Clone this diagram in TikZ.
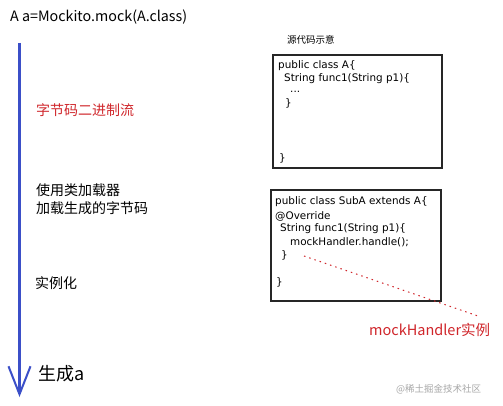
\documentclass[tikz,border=0pt]{standalone}
\usepackage{fontspec}
\setmainfont{Noto Sans CJK SC}
\newfontfamily\codefont{DejaVu Sans}
\usetikzlibrary{arrows.meta}
\definecolor{flowblue}{HTML}{3B4FC8}
\definecolor{hred}{HTML}{D0262B}
\definecolor{wmgray}{HTML}{A8A8A8}
\tikzset{
  lbl/.style={anchor=west, inner sep=0pt, font=\fontsize{14}{16}\selectfont},
  code/.style={anchor=west, inner sep=0pt, font=\codefont\fontsize{10.4}{12}\selectfont},
  codebox/.style={draw=black!85, line width=1.6pt},
  flow/.style={draw=flowblue, line width=2.6pt, -{Straight Barb[length=28pt,width=22pt,line width=2pt]}},
  hint/.style={draw=hred, line width=1pt, dash pattern=on 1.5pt off 4pt}
}
\begin{document}
\begin{tikzpicture}[x=1pt,y=-1pt]
\path[use as bounding box, fill=white] (0,0) rectangle (503,406);
% title
\node[lbl, font=\fontsize{14.3}{16}\selectfont] (title) at (10,17) {A a=Mockito.mock(A.class)};
% flow arrow
\coordinate (ftop) at (19.5,43);
\coordinate (fbot) at (19.5,397);
\draw[flow] (ftop) -- (fbot);
% left labels
\node[lbl, text=hred] (bytes) at (36,110) {字节码二进制流};
\node[lbl, align=left] (loader) at (36,199) {使用类加载器\\[2pt]加载生成的字节码};
\node[lbl] (inst) at (35,283) {实例化};
\node[lbl, font=\fontsize{18}{20}\selectfont] (gen) at (38,374) {生成a};
% box 1
\node[anchor=west, inner sep=0pt, font=\fontsize{9.5}{11}\selectfont] (srccap) at (287,40) {源代码示意};
\node[codebox, minimum width=169pt, minimum height=113pt, anchor=north west, inner sep=0pt] (box1) at (272,54) {};
\node[code] (b1l1) at (278,66) {public class A\{};
\node[code] (b1l2) at (284,79) {String func1(String p1)\{};
\node[code] (b1l3) at (290,92) {...};
\node[code] (b1l4) at (285,103) {\}};
\node[code] (b1l5) at (279,158) {\}};
% box 2
\node[codebox, minimum width=170pt, minimum height=111pt, anchor=north west, inner sep=0pt] (box2) at (270,189) {};
\node[code] (b2l1) at (275,202) {public class SubA extends A\{};
\node[code] (b2l2) at (275,216) {@Override};
\node[code] (b2l3) at (280,229) {String func1(String p1)\{};
\node[code] (b2l4) at (290,242) {mockHandler.handle();};
\node[code] (b2l5) at (281,255) {\}};
\node[code] (b2l6) at (276,282) {\}};
% hint
\coordinate (hs) at (304,256);
\coordinate (he) at (478,316);
\draw[hint] (hs) -- (he);
\node[lbl, text=hred, font=\fontsize{14.5}{16}\selectfont] (mh) at (369,330) {mockHandler实例};
% watermark
\node[lbl, text=wmgray, font=\fontsize{9.5}{11}\selectfont] (wm) at (396,389) {@稀土掘金技术社区};
\end{tikzpicture}
\end{document}
